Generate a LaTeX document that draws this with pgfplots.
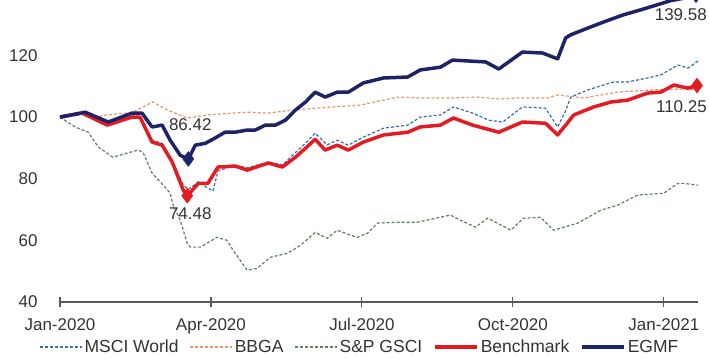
\documentclass[border=0pt]{standalone}
\usepackage{fontspec}
\setmainfont{Liberation Sans}
\usepackage{pgfplots}
\pgfplotsset{compat=1.18}
\definecolor{navy}{HTML}{1E2266}
\definecolor{bred}{HTML}{E31B23}
\definecolor{mscib}{HTML}{2F6EA8}
\definecolor{bbga}{HTML}{E9956A}
\definecolor{gsci}{HTML}{5E7F5E}
\definecolor{txt}{HTML}{333333}
\begin{document}
\begin{tikzpicture}
\path[use as bounding box] (-60bp,-57bp) rectangle (649bp,302bp);
\begin{axis}[
 at={(0,0)}, anchor=south west,
 scale only axis, width=638bp, height=302bp,
 xmin=0, xmax=12.68, ymin=40, ymax=138,
 clip=false,
 axis x line*=bottom, axis y line*=left,
 y axis line style={draw=none},
 x axis line style={draw=black!65, line width=1.2bp},
 xtick={0,3,6,9,12},
 xticklabels={Jan-2020,Apr-2020,Jul-2020,Oct-2020,Jan-2021},
 ytick={40,60,80,100,120},
 ytick style={draw=none},
 xtick style={draw=black!65, line width=1.2bp},
 major tick length=10bp, tick align=center,
 /pgf/number format/assume math mode=true,
 tick label style={font=\fontsize{17bp}{20bp}\selectfont, text=txt},
 yticklabel style={xshift=-14bp},
 xticklabel style={yshift=-8bp},
 legend style={at={(0.47,-0.149)}, anchor=center, draw=none, fill=none,
   font=\fontsize{17.5bp}{20bp}\selectfont, text=txt,
   /tikz/every even column/.append style={column sep=9bp},
   inner sep=0pt},
 legend columns=5,
 legend image code/.code={\draw[#1] (0bp,0bp) -- (42bp,0bp);},
]
\addplot[mscib, line width=1.2bp, dash pattern=on 3bp off 2bp] coordinates {
(0,100) (0.44,101.3) (0.94,97.7) (1.43,100.3) (1.59,100.3) (1.83,92.5) (2.03,91.5)
(2.23,86) (2.45,78) (2.55,76.5) (2.75,79) (2.94,77) (3.04,76.0) (3.14,82.5) (3.48,84.5)
(3.72,83.5) (4.14,85.5) (4.42,84.5) (4.68,88.5) (4.88,91.5) (5.07,94.8) (5.31,91.0)
(5.51,92.5) (5.73,90.9) (6.03,93.5) (6.43,96.4) (6.91,97.4) (7.16,100) (7.56,100.7)
(7.82,103.3) (8.20,101.3) (8.52,99.0) (8.80,98.4) (9.19,103.3) (9.65,102.9) (9.89,96.8)
(10.05,102) (10.15,106.5) (10.49,108.8) (11.0,111.4) (11.28,111.4) (11.68,112.7)
(11.94,113.7) (12.28,116.9) (12.48,115.9) (12.68,118.2)};
\addlegendentry{MSCI World}
\addplot[bbga, line width=1.2bp, dash pattern=on 3bp off 2bp] coordinates {
(0,100) (0.44,101.0) (0.70,100) (0.94,100.7) (1.43,101.5) (1.85,104.9) (2.13,102.3)
(2.53,99.7) (2.93,100.7) (3.44,101.3) (3.72,101.6) (4.12,101.3) (4.64,102.3) (5.43,103.3)
(5.97,103.9) (6.17,104.6) (6.71,106.5) (7.10,106.2) (7.76,106.2) (8.30,106.5) (8.70,105.9)
(9.09,106.2) (9.69,106.2) (9.89,107.2) (10.41,106.2) (11.08,108.1) (11.74,108.8)
(12.40,109.1) (12.68,108.8)};
\addlegendentry{BBGA}
\addplot[gsci, line width=1.2bp, dash pattern=on 3bp off 2bp] coordinates {
(0,100) (0.30,96.8) (0.56,95.1) (0.76,90.3) (1.05,87.0) (1.33,88.3) (1.55,89.3) (1.65,88.6)
(1.83,81.8) (2.05,78.0) (2.19,75.3) (2.25,71.4) (2.39,66.5) (2.53,59.0) (2.59,57.8)
(2.79,57.8) (3.12,61.0) (3.32,60.0) (3.44,56.8) (3.72,50.3) (3.92,50.9) (4.18,54.5)
(4.52,55.8) (4.78,58.4) (5.07,62.6) (5.31,60.7) (5.51,63.3) (5.77,61.7) (5.91,61.0)
(6.11,62.3) (6.31,65.6) (6.71,65.9) (7.10,65.9) (7.76,68.2) (7.96,66.5) (8.26,64.3)
(8.50,67.2) (8.96,63.3) (9.21,67.2) (9.55,67.5) (9.81,63.3) (10.29,65.6) (10.75,69.8)
(11.08,71.4) (11.48,74.7) (12.0,75.3) (12.28,78.5) (12.40,78.5) (12.68,77.9)};
\addlegendentry{S\&P GSCI}
\addplot[bred, line width=3.5bp, line join=round] coordinates {
(0,100) (0.44,101.3) (0.94,97.4) (1.43,100) (1.59,100) (1.83,91.9) (2.03,90.9) (2.23,85.4)
(2.45,76.3) (2.53,74.48) (2.75,78.5) (2.94,78.5) (3.14,83.8) (3.48,84.1) (3.72,82.8)
(4.14,85.1) (4.42,83.8) (4.68,87.0) (4.88,89.9) (5.07,92.8) (5.27,89.3) (5.51,90.9)
(5.73,89.3) (6.03,91.9) (6.43,94.2) (6.91,95.1) (7.16,96.8) (7.56,97.4) (7.82,99.7)
(8.20,97.4) (8.72,95.1) (9.19,98.4) (9.65,98.0) (9.89,94.2) (10.05,97.4) (10.21,100.7)
(10.61,103.3) (10.95,104.9) (11.28,105.5) (11.68,107.8) (11.94,108.1) (12.20,110.4)
(12.48,109.4) (12.66,110.25)};
\addlegendentry{Benchmark}
\addplot[navy, line width=3.5bp, line join=round] coordinates {
(0,100) (0.50,101.6) (0.96,98.4) (1.43,101.3) (1.63,101.3) (1.83,96.8) (2.03,97.4)
(2.19,92.5) (2.39,87.6) (2.55,86.42) (2.69,90.9) (2.89,91.5) (3.08,93.2) (3.28,95.1)
(3.48,95.1) (3.72,95.8) (3.88,95.8) (4.08,97.4) (4.28,97.4) (4.48,99.0) (4.68,102.3)
(4.88,104.9) (5.07,108.1) (5.27,106.5) (5.51,108.1) (5.73,108.1) (6.03,111.1) (6.43,112.7)
(6.91,113.0) (7.16,115.3) (7.56,116.2) (7.80,118.5) (8.46,117.9) (8.72,115.6) (9.19,121.1)
(9.59,120.8) (9.89,118.9) (10.05,125.7) (10.15,126.7) (10.49,128.9) (10.81,130.9)
(11.20,133.2) (11.54,134.8) (11.94,136.8) (12.14,137.8) (12.40,138.6) (12.64,139.58)};
\addlegendentry{EGMF}
\addplot[only marks, mark=diamond*, mark size=7.5bp, color=bred, forget plot]
 coordinates {(2.53,74.48) (12.66,110.25)};
\addplot[only marks, mark=diamond*, mark size=7.5bp, color=navy, forget plot]
 coordinates {(2.55,86.42) (12.64,139.58)};
\node[text=txt, font=\fontsize{17bp}{20bp}\selectfont] at (axis cs:2.59,97.4) {86.42};
\node[text=txt, font=\fontsize{17bp}{20bp}\selectfont] at (axis cs:2.59,68.8) {74.48};
\node[text=txt, font=\fontsize{17bp}{20bp}\selectfont, anchor=east, inner sep=0pt, xshift=9bp] at (axis cs:12.68,133.2) {139.58};
\node[text=txt, font=\fontsize{17bp}{20bp}\selectfont, anchor=east, inner sep=0pt, xshift=9bp] at (axis cs:12.68,103.3) {110.25};
\end{axis}
\end{tikzpicture}
\end{document}
